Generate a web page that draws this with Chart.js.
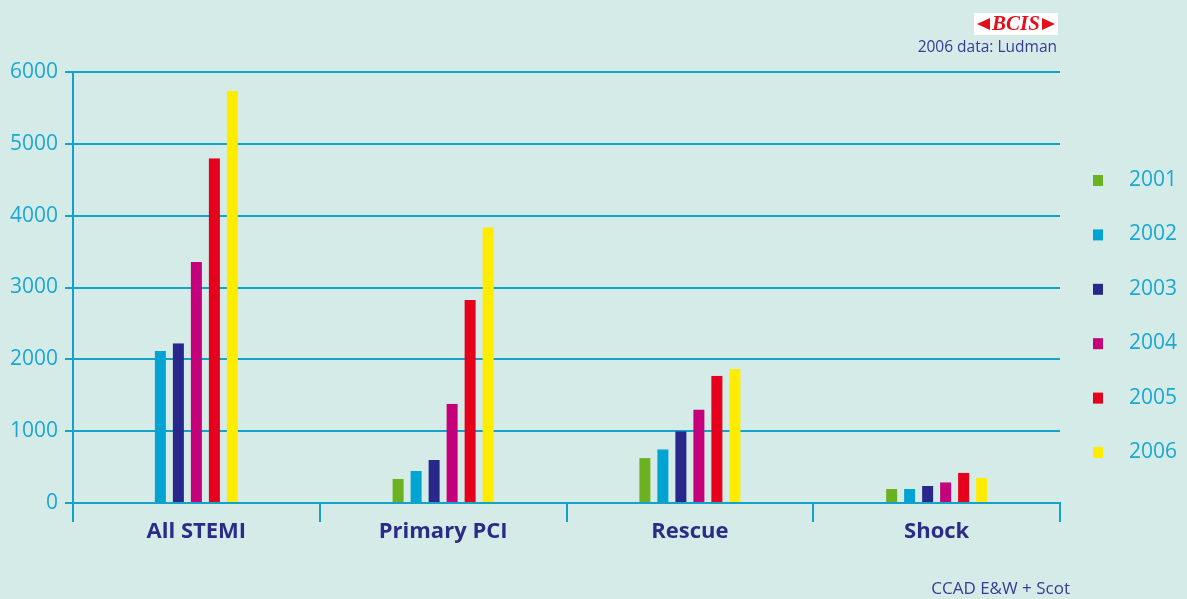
<!DOCTYPE html>
<html>
<head>
<meta charset="utf-8">
<script src="https://cdn.jsdelivr.net/npm/chart.js@4.4.1/dist/chart.umd.min.js"></script>
<style>
  html, body { margin: 0; padding: 0; background: #d5ebe8; }
  #wrap { width: 1187px; height: 599px; }
</style>
</head>
<body>
<div id="wrap"><canvas id="stemi" width="1187" height="599"></canvas></div>
<script>
// procedures per year, by indication
const categories = ["All STEMI", "Primary PCI", "Rescue", "Shock"];
const years = ["2001", "2002", "2003", "2004", "2005", "2006"];
const y2001 = [null, 335, 625, 195];
const y2002 = [2115, 445, 750, 195];
const y2003 = [2225, 600, 1000, 235];
const y2004 = [3355, 1380, 1300, 290];
const y2005 = [4800, 2825, 1770, 420];
const y2006 = [5735, 3840, 1865, 350];
const yearColours = ["#6cb11f", "#00a4d3", "#27288a", "#c4007a", "#e5001c", "#ffec00"];
const yMax = 6000;
const yStep = 1000;

const TEAL = "#15a2c9";
const CYAN = "#1ba7d1";
const NAVY = "#2c2b85";
const FONT = "'Open Sans', 'Noto Sans', sans-serif";

const series = [y2001, y2002, y2003, y2004, y2005, y2006];

// legend, source notes and logo drawn straight onto the canvas
const decor = {
  id: "decor",
  afterDraw(chart) {
    const ctx = chart.ctx;
    ctx.save();

    // legend column on the right
    ctx.font = "21px " + FONT;
    ctx.textBaseline = "middle";
    ctx.textAlign = "left";
    chart.data.datasets.forEach((ds, i) => {
      const y = 180 + 54.4 * i;
      ctx.fillStyle = ds.backgroundColor;
      ctx.fillRect(1093, y - 5, 10, 11);
      ctx.fillStyle = CYAN;
      ctx.fillText(ds.label, 1129, y);
    });

    // notes
    ctx.fillStyle = "#3a3a96";
    ctx.textAlign = "right";
    ctx.font = "15.5px " + FONT;
    ctx.fillText("2006 data: Ludman", 1057, 48);
    ctx.font = "17px " + FONT;
    ctx.fillText("CCAD E&W + Scot", 1070, 589);

    // BCIS badge
    ctx.fillStyle = "#ffffff";
    ctx.fillRect(974, 13, 84, 22);
    ctx.fillStyle = "#e3101b";
    ctx.beginPath();
    ctx.moveTo(977, 24); ctx.lineTo(990, 18); ctx.lineTo(990, 30); ctx.closePath();
    ctx.moveTo(1055, 24); ctx.lineTo(1042, 18); ctx.lineTo(1042, 30); ctx.closePath();
    ctx.fill();
    ctx.font = "italic bold 21px 'Liberation Serif', serif";
    ctx.textAlign = "center";
    ctx.fillText("BCIS", 1016, 25);

    ctx.restore();
  }
};

new Chart(document.getElementById("stemi"), {
  type: "bar",
  data: {
    labels: categories,
    datasets: years.map((yr, i) => ({
      label: yr,
      data: series[i],
      backgroundColor: yearColours[i],
      borderColor: "rgba(0,0,0,0)",
      borderWidth: { left: 3.5, right: 3.5, top: 0, bottom: 0 },
      barThickness: 18,
      inflateAmount: 0,
      skipNull: true
    }))
  },
  options: {
    responsive: false,
    animation: false,
    layout: { padding: { top: 72, right: 127, bottom: 0, left: 0 } },
    plugins: {
      legend: { display: false },
      tooltip: { enabled: false }
    },
    scales: {
      x: {
        offset: true,
        grid: {
          offset: true,
          lineWidth: 2,
          tickLength: 19,
          tickColor: TEAL,
          color: c => (c.index === 0 || c.index === categories.length) ? TEAL : "rgba(0,0,0,0)"
        },
        border: { color: TEAL, width: 2 },
        ticks: {
          color: NAVY,
          padding: -3,
          font: { family: FONT, size: 22, weight: "bold" }
        },
        afterFit: s => { s.height = 96; }
      },
      y: {
        min: 0,
        max: yMax,
        ticks: {
          stepSize: yStep,
          color: CYAN,
          padding: 7,
          font: { family: FONT, size: 21 },
          callback: v => String(v)
        },
        grid: { color: TEAL, lineWidth: 2, tickLength: 8, tickColor: TEAL },
        border: { color: TEAL, width: 2 },
        afterFit: s => { s.width = 73; }
      }
    }
  },
  plugins: [decor]
});
</script>
</body>
</html>
